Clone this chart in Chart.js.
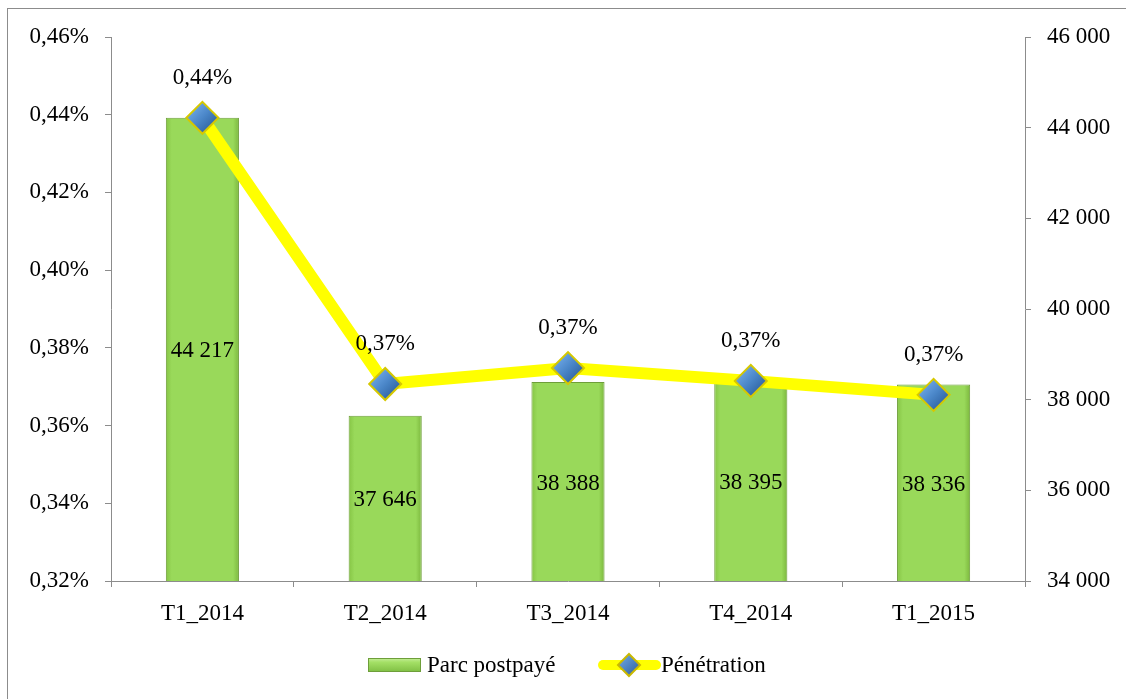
<!DOCTYPE html>
<html>
<head>
<meta charset="utf-8">
<script src="https://cdn.jsdelivr.net/npm/chart.js@4/dist/chart.umd.min.js"></script>
<style>
html,body{margin:0;padding:0;background:#fff;}
#wrap{width:1126px;height:699px;position:relative;overflow:hidden;}
#frame{position:absolute;left:7px;top:8px;width:1200px;height:800px;border-left:1px solid #8C8C8C;border-top:1px solid #8C8C8C;pointer-events:none;}
canvas{position:absolute;left:0;top:0;}
</style>
</head>
<body>
<div id="wrap"><canvas id="c" width="1126" height="699"></canvas><div id="frame"></div></div>
<script>
const categories = ['T1_2014','T2_2014','T3_2014','T4_2014','T1_2015'];
const parcPostpaye = [44217, 37646, 38388, 38395, 38336];
const penetration = [0.4392, 0.3707, 0.3748, 0.3715, 0.3679];
const leftTicks = {min:0.32, max:0.46, step:0.02};
const rightTicks = {min:34000, max:46000, step:2000};
const seriesNames = ['Parc postpayé','Pénétration'];

const FONT = '"Liberation Serif", "Times New Roman", serif';
const FS = 23;

function fmtPct(v){ return v.toFixed(2).replace('.', ',') + '%'; }
function fmtNum(v){ return Math.round(v).toString().replace(/\B(?=(\d{3})+(?!\d))/g, ' '); }

function ok(){ for(const a of arguments){ if(!Number.isFinite(a)) return false; } return true; }

function barFill(ctx){
  const chart = ctx.chart;
  const xs = chart.scales && chart.scales.x;
  if(!xs || ctx.dataIndex === undefined) return '#99D95A';
  const x = xs.getPixelForValue(ctx.dataIndex);
  const w = 73;
  if(!ok(x)) return '#99D95A';
  const g = chart.ctx.createLinearGradient(x - w/2, 0, x + w/2, 0);
  g.addColorStop(0, '#86C545');
  g.addColorStop(0.08, '#99D95A');
  g.addColorStop(0.92, '#99D95A');
  g.addColorStop(1, '#7CB83E');
  return g;
}

function diamondFill(ctx){
  const chart = ctx.chart;
  const xs = chart.scales && chart.scales.x;
  const ys = chart.scales && chart.scales.yL;
  if(!xs || !ys || ctx.dataIndex === undefined) return '#4A86C8';
  const x = xs.getPixelForValue(ctx.dataIndex);
  const y = ys.getPixelForValue(penetration[ctx.dataIndex]);
  if(!ok(x,y)) return '#4A86C8';
  const g = chart.ctx.createLinearGradient(x-12, y-12, x+12, y+12);
  g.addColorStop(0, '#74ADEB');
  g.addColorStop(0.5, '#4A86C8');
  g.addColorStop(1, '#2A5C9A');
  return g;
}

const labelPlugin = {
  id:'labels',
  afterDatasetsDraw(chart){
    const c = chart.ctx;
    const xs = chart.scales.x, yR = chart.scales.yR, yL = chart.scales.yL;
    c.save();
    c.font = FS + 'px ' + FONT;
    c.fillStyle = '#000';
    c.textAlign = 'center';
    c.textBaseline = 'middle';
    parcPostpaye.forEach((v,i)=>{
      const x = xs.getPixelForValue(i);
      const top = yR.getPixelForValue(v);
      const base = yR.getPixelForValue(rightTicks.min);
      c.fillText(fmtNum(v), x, (top + base)/2 + 2);
    });
    penetration.forEach((v,i)=>{
      const x = xs.getPixelForValue(i);
      const y = yL.getPixelForValue(v);
      c.fillText(fmtPct(v), x, y - 40);
    });
    c.restore();
  }
};

const legendPlugin = {
  id:'customLegend',
  afterDraw(chart){
    const c = chart.ctx;
    c.save();
    const y = 665;
    const g = c.createLinearGradient(0, y-7, 0, y+7);
    g.addColorStop(0, '#C6EE9A');
    g.addColorStop(0.3, '#A4E066');
    g.addColorStop(1, '#7FBF43');
    c.fillStyle = g;
    c.fillRect(368, y-7, 53, 14);
    c.strokeStyle = '#6E9E3A';
    c.lineWidth = 1;
    c.strokeRect(368.5, y-6.5, 52, 13);
    c.font = FS + 'px ' + FONT;
    c.fillStyle = '#000';
    c.textAlign = 'left';
    c.textBaseline = 'middle';
    c.fillText(seriesNames[0], 427, y+1);
    c.strokeStyle = '#FFFF00';
    c.lineWidth = 10;
    c.lineCap = 'round';
    c.beginPath();
    c.moveTo(603, y);
    c.lineTo(656, y);
    c.stroke();
    const cx = 629, r = 11;
    const dg = c.createLinearGradient(cx-r, y-r, cx+r, y+r);
    dg.addColorStop(0, '#74ADEB');
    dg.addColorStop(1, '#2A5C9A');
    c.fillStyle = dg;
    c.strokeStyle = '#C9B800';
    c.lineWidth = 2;
    c.beginPath();
    c.moveTo(cx, y-r); c.lineTo(cx+r, y); c.lineTo(cx, y+r); c.lineTo(cx-r, y); c.closePath();
    c.fill(); c.stroke();
    c.fillStyle = '#000';
    c.fillText(seriesNames[1], 661, y+1);
    c.restore();
  }
};

new Chart(document.getElementById('c'), {
  data:{
    labels: categories,
    datasets:[
      {
        type:'bar',
        label: seriesNames[0],
        data: parcPostpaye,
        yAxisID:'yR',
        backgroundColor: barFill,
        borderColor:'#6E9E3A',
        borderWidth:1,
        barPercentage:0.4,
        categoryPercentage:1,
        order:2
      },
      {
        type:'line',
        label: seriesNames[1],
        data: penetration,
        yAxisID:'yL',
        borderColor:'#FFFF00',
        borderWidth:12,
        tension:0,
        pointStyle:'rectRot',
        pointRadius:16,
        pointHoverRadius:16,
        pointBackgroundColor: diamondFill,
        pointBorderColor:'#D6C800',
        pointBorderWidth:2,
        order:1
      }
    ]
  },
  options:{
    responsive:false,
    animation:false,
    devicePixelRatio:1,
    events:[],
    layout:{padding:{top:37, bottom:0, left:0, right:0}},
    plugins:{legend:{display:false}, tooltip:{enabled:false}},
    scales:{
      x:{
        offset:true,
        grid:{offset:true, drawOnChartArea:false, drawTicks:true, tickLength:6, color:'#8C8C8C'},
        border:{color:'#8C8C8C', width:1},
        ticks:{color:'#000', font:{family:FONT, size:FS}, padding:13, maxRotation:0},
        afterFit(s){ s.height = 118; }
      },
      yL:{
        position:'left',
        min:leftTicks.min, max:leftTicks.max,
        grid:{drawOnChartArea:false, drawTicks:true, tickLength:6, color:'#8C8C8C'},
        border:{color:'#8C8C8C', width:1},
        ticks:{stepSize:leftTicks.step, color:'#000', font:{family:FONT, size:FS}, padding:16,
          callback:(v)=>fmtPct(v)},
        afterFit(s){ s.width = 111; }
      },
      yR:{
        position:'right',
        min:rightTicks.min, max:rightTicks.max,
        grid:{drawOnChartArea:false, drawTicks:true, tickLength:6, color:'#8C8C8C'},
        border:{color:'#8C8C8C', width:1},
        ticks:{stepSize:rightTicks.step, color:'#000', font:{family:FONT, size:FS}, padding:16,
          callback:(v)=>fmtNum(v)},
        afterFit(s){ s.width = 101; }
      }
    }
  },
  plugins:[labelPlugin, legendPlugin]
});
</script>
</body>
</html>
